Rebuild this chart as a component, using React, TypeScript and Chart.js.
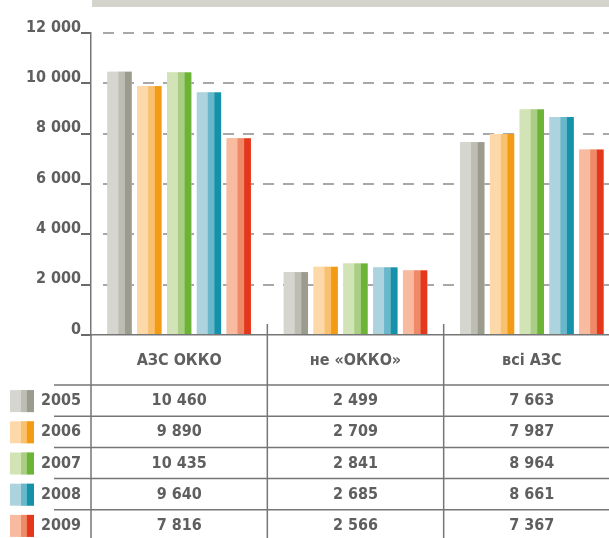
import React, { useEffect, useRef } from 'react';
import { Chart, registerables } from 'chart.js';

Chart.register(...registerables);

// ---- data ----
const categories = ['АЗС ОККО', 'не «ОККО»', 'всі АЗС'];
const years = ['2005', '2006', '2007', '2008', '2009'];
const values2005 = [10460, 2499, 7663];
const values2006 = [9890, 2709, 7987];
const values2007 = [10435, 2841, 8964];
const values2008 = [9640, 2685, 8661];
const values2009 = [7816, 2566, 7367];
const yTickMax = 12000;
const yTickStep = 2000;

const seriesValues = [values2005, values2006, values2007, values2008, values2009];

// ---- styles ----
const palette = [
  { light: '#d6d6d0', mid: '#bdbdb4', dark: '#9b9b8e' },
  { light: '#fdd9a9', mid: '#f9c070', dark: '#f39b12' },
  { light: '#d2e3b6', mid: '#aacf84', dark: '#6bb435' },
  { light: '#add4de', mid: '#69b7cb', dark: '#1592aa' },
  { light: '#f8bba0', mid: '#ef8a68', dark: '#e4371c' },
];
const FONT = '"DejaVu Sans Condensed", "DejaVu Sans", sans-serif';
const TEXT = '#5f5f5f';
const LINE = '#767676';
const DASH = '#a8a8a8';

const fmt = (v: number) => String(v).replace(/\B(?=(\d{3})+(?!\d))/g, ' ');

const HEADER_BOTTOM = 385;
const ROW_H = 31.2;

const stripes = (ctx: CanvasRenderingContext2D, left: number, top: number, w: number, h: number, p: { light: string; mid: string; dark: string }, a: number, b: number) => {
  ctx.fillStyle = p.light;
  ctx.fillRect(left, top, w, h);
  ctx.fillStyle = p.mid;
  ctx.fillRect(left + w * a, top, w * (b - a), h);
  ctx.fillStyle = p.dark;
  ctx.fillRect(left + w * b, top, w * (1 - b), h);
};

const okkoPlugin = {
  id: 'okkoTable',
  beforeDatasetsDraw(chart: any) {
    const { ctx, chartArea, scales } = chart;
    const y = scales.y;
    ctx.save();
    ctx.strokeStyle = DASH;
    ctx.lineWidth = 2;
    ctx.setLineDash([11, 9]);
    y.ticks.forEach((t: any) => {
      if (t.value === 0) return;
      const py = Math.round(y.getPixelForValue(t.value));
      ctx.beginPath();
      ctx.moveTo(chartArea.left + 12, py);
      ctx.lineTo(chartArea.right, py);
      ctx.stroke();
    });
    ctx.restore();
  },
  afterDatasetsDraw(chart: any) {
    const { ctx } = chart;
    ctx.save();
    chart.data.datasets.forEach((_d: any, di: number) => {
      const meta = chart.getDatasetMeta(di);
      meta.data.forEach((el: any) => {
        const { x, y, base, width } = el.getProps(['x', 'y', 'base', 'width'], true);
        stripes(ctx, x - width / 2, y, width, base - y, palette[di], 0.45, 0.72);
      });
    });
    ctx.restore();
  },
  afterDraw(chart: any) {
    const { ctx, chartArea, scales, width: cw, height: ch } = chart;
    const xs = scales.x;
    ctx.save();
    // horizontal table lines
    ctx.strokeStyle = LINE;
    ctx.lineWidth = 1.5;
    for (let i = 0; i < years.length; i++) {
      const py = HEADER_BOTTOM + i * ROW_H;
      ctx.beginPath();
      ctx.moveTo(54, py);
      ctx.lineTo(cw, py);
      ctx.stroke();
    }
    // vertical lines
    ctx.beginPath();
    ctx.moveTo(chartArea.left, chartArea.bottom);
    ctx.lineTo(chartArea.left, ch);
    ctx.stroke();
    for (let i = 0; i < categories.length - 1; i++) {
      const bx = (xs.getPixelForValue(i) + xs.getPixelForValue(i + 1)) / 2;
      ctx.beginPath();
      ctx.moveTo(bx, chartArea.bottom - 11);
      ctx.lineTo(bx, ch);
      ctx.stroke();
    }
    // rows
    ctx.font = `bold 16px ${FONT}`;
    ctx.fillStyle = TEXT;
    ctx.textBaseline = 'middle';
    years.forEach((yr, ri) => {
      const cy = HEADER_BOTTOM + ri * ROW_H + ROW_H / 2 + 0.5;
      stripes(ctx, 10, cy - 11, 24, 22, palette[ri], 0.46, 0.70);
      ctx.fillStyle = TEXT;
      ctx.textAlign = 'left';
      ctx.fillText(yr, 41, cy);
      ctx.textAlign = 'center';
      seriesValues[ri].forEach((v, ci) => {
        ctx.fillText(fmt(v), xs.getPixelForValue(ci), cy);
      });
    });
    ctx.restore();
  },
};

export default function App() {
  const ref = useRef<HTMLCanvasElement | null>(null);
  useEffect(() => {
    if (!ref.current) return;
    const chart = new Chart(ref.current, {
      type: 'bar',
      data: {
        labels: categories,
        datasets: years.map((yr, i) => ({
          label: yr,
          data: seriesValues[i],
          backgroundColor: palette[i].light,
          borderWidth: 0,
          categoryPercentage: 0.845,
          barPercentage: 0.815,
        })),
      },
      options: {
        animation: false,
        responsive: false,
        devicePixelRatio: 1,
        layout: { padding: { top: 33, left: 0, right: 0, bottom: 0 } },
        plugins: { legend: { display: false }, tooltip: { enabled: false } },
        scales: {
          x: {
            grid: { display: true, drawOnChartArea: false, drawTicks: false },
            border: { display: true, color: LINE, width: 1.5 },
            ticks: {
              color: TEXT,
              font: { family: FONT, size: 16, weight: 'bold' },
              padding: 16,
              maxRotation: 0,
            },
            afterFit: (s: any) => { s.height = 203; },
          },
          y: {
            min: 0,
            max: yTickMax,
            ticks: {
              stepSize: yTickStep,
              color: TEXT,
              padding: 0,
              font: { family: FONT, size: 16, weight: 'bold', lineHeight: 0.7 },
              callback: (v: any) => [fmt(Number(v)), ''],
            },
            grid: { display: true, drawOnChartArea: false, drawTicks: true, tickLength: 10, color: '#6a6a6a', lineWidth: 2 },
            border: { display: true, color: LINE, width: 1.5 },
            afterFit: (s: any) => { s.width = 91; },
          },
        },
      },
      plugins: [okkoPlugin],
    });
    return () => chart.destroy();
  }, []);
  return (
    <div style={{ position: 'fixed', left: 0, top: 0, width: 609, height: 538, overflow: 'hidden', background: '#fff' }}>
      <div style={{ position: 'absolute', left: 92, top: 0, width: 517, height: 7, background: '#d4d4cd' }} />
      <canvas ref={ref} width={620} height={538} style={{ position: 'absolute', left: 0, top: 0 }} />
    </div>
  );
}
